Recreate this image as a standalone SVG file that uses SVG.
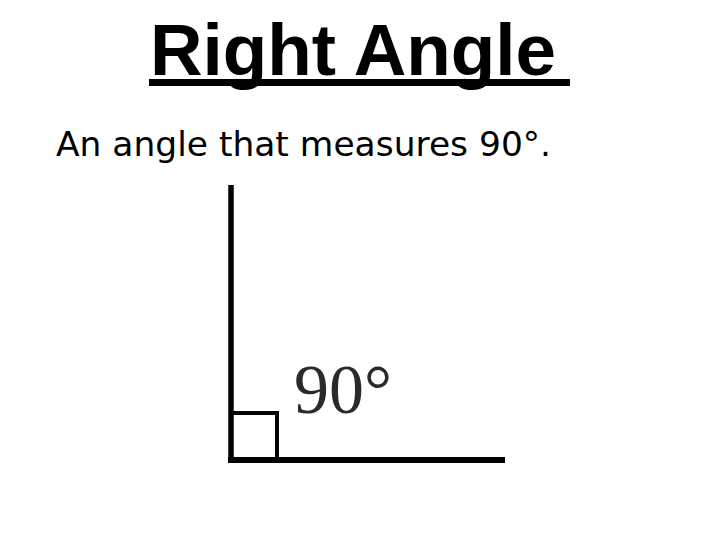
<svg xmlns="http://www.w3.org/2000/svg" width="720" height="540" viewBox="0 0 720 540">
<style>
.title{font-family:"Liberation Sans",Arial,sans-serif;font-weight:bold;font-size:73px;fill:#000}
.sub{font-family:"DejaVu Sans","Liberation Sans",sans-serif;font-size:34px;fill:#000}
.deg{font-family:"Liberation Serif","Times New Roman",serif;font-size:70px;fill:#2a2a2a}
.ln{stroke:#000;fill:none}
</style>
<rect width="720" height="540" fill="#fff"/>
<g id="title">
<text class="title" x="150" y="75" textLength="406" lengthAdjust="spacingAndGlyphs">Right Angle</text>
<rect x="149" y="79" width="421" height="7" fill="#000"/>
</g>
<g id="subtitle">
<text class="sub" x="56" y="156" textLength="495" lengthAdjust="spacingAndGlyphs">An angle that measures 90°.</text>
</g>
<g id="angle">
<line class="ln" x1="231" y1="185" x2="231" y2="463" stroke-width="5.5"/>
<line class="ln" x1="228" y1="460" x2="505" y2="460" stroke-width="6"/>
<polyline class="ln" points="231,413 277,413 277,460" stroke-width="4"/>
<text class="deg" x="294" y="413">90°</text>
</g>
</svg>
